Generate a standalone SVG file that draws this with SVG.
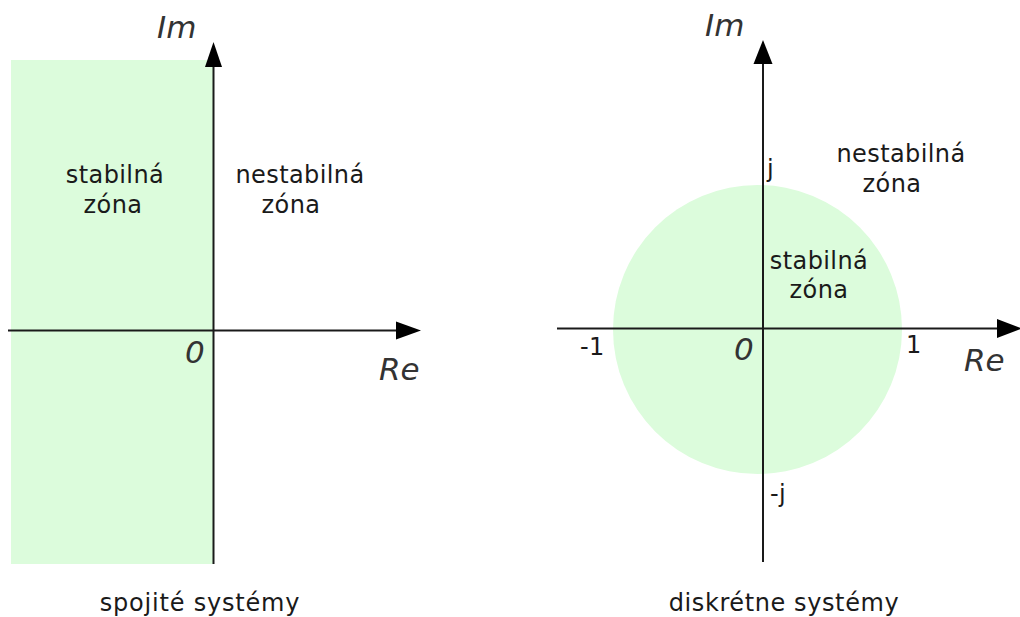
<svg xmlns="http://www.w3.org/2000/svg" width="1020" height="617" viewBox="0 0 1020 617">
<style>
.zone{fill:#dcfcdc;stroke:none}
.axis{stroke:#1a1a1a;stroke-width:2;fill:none}
.head{fill:#000}
.lbl{font-family:"DejaVu Sans",sans-serif;font-size:24px;fill:#1a1a1a;letter-spacing:0.4px}
.var{font-family:"DejaVu Sans",sans-serif;font-style:italic;font-size:31px;fill:#333}
.mid{text-anchor:middle}
</style>
<rect width="1020" height="617" fill="#fff"/>
<g id="left-panel">
  <rect id="stable-halfplane" class="zone" x="11" y="60" width="202" height="504"/>
  <g id="left-axes">
    <line class="axis" x1="213.5" y1="564" x2="213.5" y2="62"/>
    <polygon class="head" points="213.5,42 205,67 222,67"/>
    <line class="axis" x1="8" y1="330.5" x2="400" y2="330.5"/>
    <polygon class="head" points="421,330.5 396,321.5 396,339.5"/>
  </g>
  <text class="var" x="157" y="38">Im</text>
  <text class="var" x="379" y="380">Re</text>
  <text class="var" x="185" y="363">0</text>
  <g id="left-stable-label">
    <text class="lbl mid" x="115" y="183">stabilná</text>
    <text class="lbl mid" x="113" y="213">zóna</text>
  </g>
  <g id="left-unstable-label">
    <text class="lbl mid" x="300" y="183">nestabilná</text>
    <text class="lbl mid" x="291" y="213">zóna</text>
  </g>
  <text class="lbl mid" x="200" y="611" style="letter-spacing:0.8px">spojité systémy</text>
</g>
<g id="right-panel">
  <circle id="unit-circle" class="zone" cx="757.5" cy="329.5" r="144.5"/>
  <g id="right-axes">
    <line class="axis" x1="763" y1="562" x2="763" y2="60"/>
    <polygon class="head" points="763,40 753.5,64 772.5,64"/>
    <line class="axis" x1="557" y1="328.5" x2="1000" y2="328.5"/>
    <polygon class="head" points="1022,328.5 997,319 997,338"/>
  </g>
  <text class="var" x="705" y="36">Im</text>
  <text class="var" x="964" y="371">Re</text>
  <text class="var" x="734" y="360">0</text>
  <text class="lbl" x="767" y="177">j</text>
  <text class="lbl" x="770" y="502">-j</text>
  <text class="lbl" x="580" y="355">-1</text>
  <text class="lbl" x="906" y="353">1</text>
  <g id="right-unstable-label">
    <text class="lbl mid" x="901" y="162">nestabilná</text>
    <text class="lbl mid" x="892" y="192">zóna</text>
  </g>
  <g id="right-stable-label">
    <text class="lbl mid" x="819" y="269">stabilná</text>
    <text class="lbl mid" x="819" y="298">zóna</text>
  </g>
  <text class="lbl mid" x="784" y="611" style="letter-spacing:0.6px">diskrétne systémy</text>
</g>
</svg>
